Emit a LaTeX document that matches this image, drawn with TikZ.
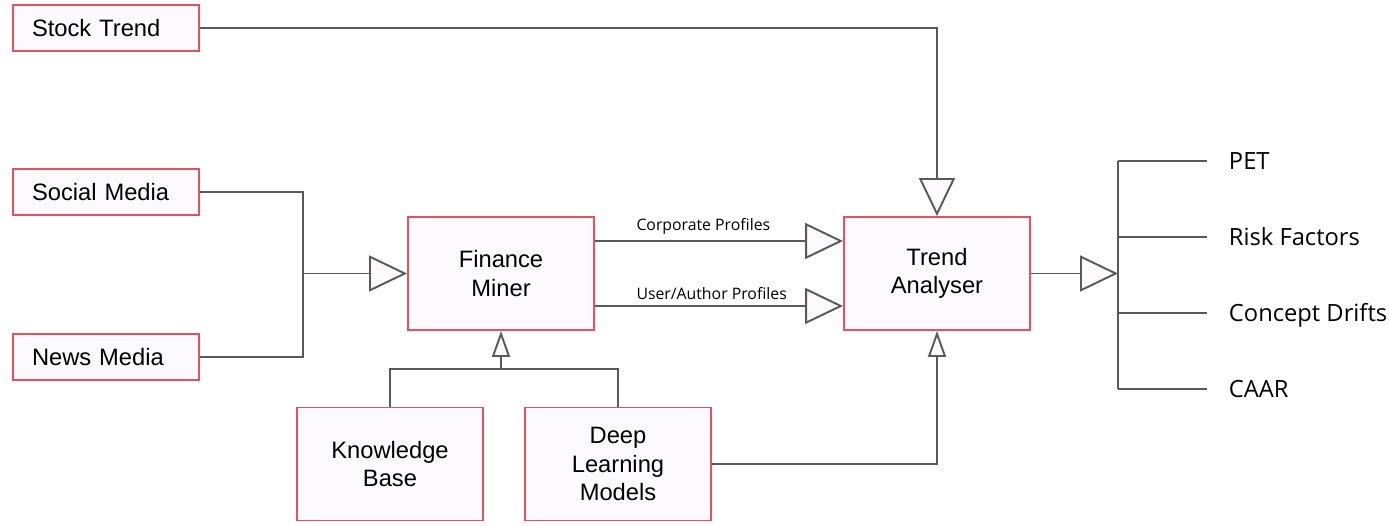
\documentclass[tikz,border=0pt]{standalone}
\usepackage{fontspec}
\setmainfont{Liberation Sans}
\newfontfamily\opensans{Open Sans}
\usetikzlibrary{arrows.meta}
\definecolor{boxred}{HTML}{E8505E}
\definecolor{boxfill}{HTML}{FCFAFE}
\definecolor{wirecol}{HTML}{595959}
\def\wid{3.72cm}
\def\hei{0.92cm}
\def\bigwid{3.72cm}
\def\bighei{2.26cm}

\begin{document}
\begin{tikzpicture}[x=0.02cm,y=-0.02cm,line width=1.1pt]
\tikzset{
  src/.style={draw=boxred,fill=boxfill,minimum width=\wid,minimum height=\hei,
    inner ysep=0pt,inner xsep=0.38cm,text width=2.96cm,align=left,
    font=\fontsize{13.5}{16.2}\selectfont},
  block/.style={draw=boxred,fill=boxfill,minimum width=\bigwid,minimum height=\bighei,
    inner sep=0pt,align=center,font=\fontsize{13.5}{16.2}\selectfont},
  outlab/.style={anchor=west,inner xsep=0pt,inner ysep=0pt,text height=9.6pt,text depth=0pt,
    font=\opensans\fontsize{13.5}{16.2}\selectfont},
  lab/.style={anchor=south west,font=\opensans\fontsize{9}{11}\selectfont},
  bigarr/.style={draw=wirecol,-{Triangle[length=0.76cm,width=0.72cm,fill=boxfill]}},
  smallarr/.style={draw=wirecol,-{Triangle[length=0.52cm,width=0.36cm,fill=boxfill]}},
  wire/.style={draw=wirecol}
}
\useasboundingbox (0,0) rectangle (1389,526);
\node[src] (stock) at (106,28) {Stock Trend};
\node[src] (social) at (106,192) {Social Media};
\node[src] (news) at (106,357) {News Media};
\node[block] (miner) at (501,273.5) {Finance\\Miner};
\node[block] (trend) at (937,273.5) {Trend\\Analyser};
\node[block] (kb) at (390,464) {Knowledge\\Base};
\node[block] (dlm) at (618,464) {Deep\\Learning\\Models};
\node[outlab] (pet) at (1228,161) {PET};
\node[outlab] (risk) at (1228,237) {Risk Factors};
\node[outlab] (drift) at (1228,313) {Concept Drifts};
\node[outlab] (caar) at (1228,389) {CAAR};
\coordinate (merge) at (303,273.5);
\coordinate (join) at (501,369);
\coordinate (fan) at (1118,273.5);
% sources
\draw[bigarr] (stock) -| (trend);
\draw[wire] (social) -| (merge);
\draw[wire] (news) -| (merge);
\draw[bigarr] (merge) -- (miner);
% miner to analyser
\draw[bigarr] ([yshift=0.65cm]miner.east) -- node[lab,pos=0.14] {Corporate Profiles} ([yshift=0.65cm]trend.west);
\draw[bigarr] ([yshift=-0.65cm]miner.east) -- node[lab,pos=0.14] {User/Author Profiles} ([yshift=-0.65cm]trend.west);
% models
\draw[wire] (kb.north) |- (join);
\draw[wire] (dlm.north) |- (join);
\draw[smallarr] (join) -- (miner);
\draw[smallarr] (dlm) -| (trend);
% outputs
\draw[bigarr] (trend) -- (fan);
\draw[wire] (fan |- pet.west) -- (fan |- caar.west);
\foreach \o in {pet,risk,drift,caar}
  \draw[wire] (fan |- \o.west) -- ([xshift=-0.42cm]\o.west);
\end{tikzpicture}
\end{document}
